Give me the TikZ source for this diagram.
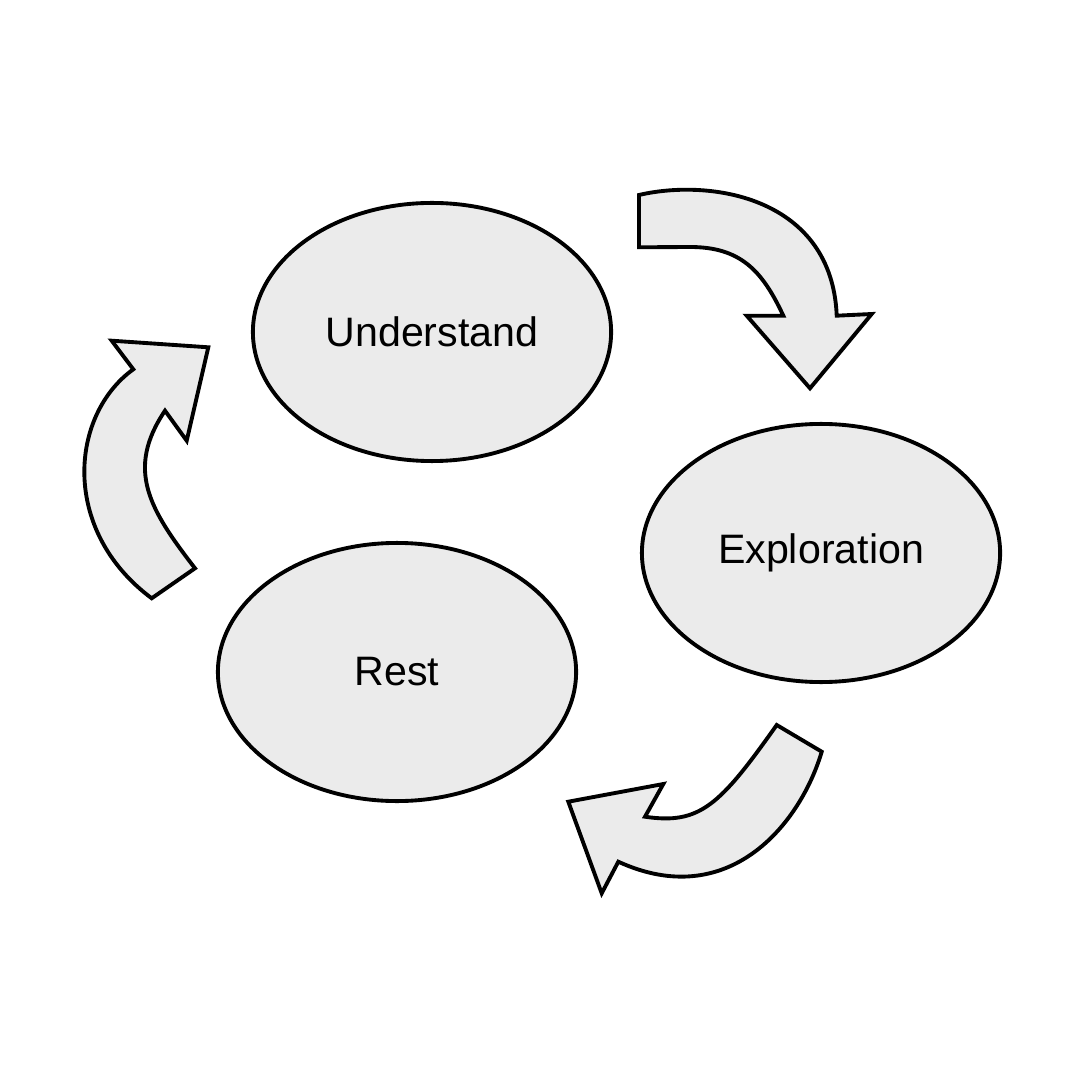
\documentclass[tikz,border=0pt]{standalone}
\usepackage{fontspec}
\setmainfont{Liberation Sans}
\usetikzlibrary{shapes.geometric}
\definecolor{boxfill}{HTML}{EBEBEB}
\tikzset{
  stage/.style={ellipse, draw=black, line width=1.1pt, fill=boxfill,
    minimum width=3.58cm, minimum height=2.58cm, inner sep=0pt,
    font=\fontsize{11.7}{14}\selectfont},
  blockarrow/.style={draw=black, line width=1.1pt, fill=boxfill, line join=miter}
}
\begin{document}
\begin{tikzpicture}[x=0.01cm, y=-0.01cm]
\path[use as bounding box, fill=white] (0,0) rectangle (1080,1080);

\node[stage] (understand) at (432,332) {Understand};
\node[stage] (exploration) at (821,553) {Exploration};
\node[stage] (rest) at (397,672) {Rest};

% top-right arrow (Understand -> Exploration)
\draw[blockarrow] (639,195) .. controls (712,178) and (832,198) .. (836.7,315.7)
  -- (871.7,314) -- (810,388.3) -- (746.7,315.7) -- (783.3,315.7)
  .. controls (762,270) and (740,247) .. (690,247) -- (639,247.3) -- cycle;

% bottom arrow (Exploration -> Rest)
\draw[blockarrow] (776.7,725) -- (821.7,751.7)
  .. controls (800,825) and (728,912) .. (618.3,861.7)
  -- (601.7,893.3) -- (568.3,801.7) -- (663.3,784) -- (645,816.7)
  .. controls (700,825) and (720,805) .. (776.7,725) -- cycle;

% left arrow (Rest -> Understand)
\draw[blockarrow] (151.7,598.3) -- (195,568.3)
  .. controls (150,510) and (125,470) .. (165,410.7)
  -- (186.7,440.7) -- (208.3,347.3) -- (111.7,340.7) -- (133.3,369.3)
  .. controls (70,415) and (60,530) .. (151.7,598.3) -- cycle;
\end{tikzpicture}
\end{document}
